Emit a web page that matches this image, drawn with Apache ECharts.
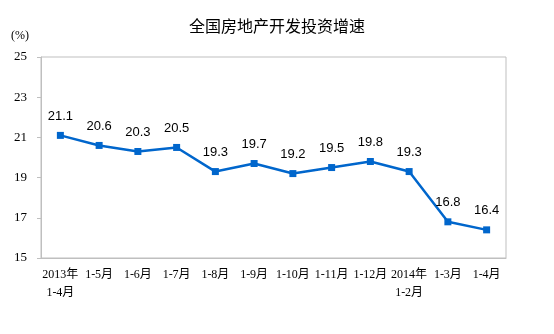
<!DOCTYPE html>
<html>
<head>
<meta charset="utf-8">
<script src="https://cdn.jsdelivr.net/npm/echarts@6/dist/echarts.min.js"></script>
<style>
  html, body { margin: 0; padding: 0; background: #fff; }
  #chart { width: 554px; height: 334px; }
</style>
</head>
<body>
<div id="chart"></div>
<script>
// Month ranges (cumulative from January)
const categories = ['2013年\n1-4月', '1-5月', '1-6月', '1-7月', '1-8月', '1-9月',
  '1-10月', '1-11月', '1-12月', '2014年\n1-2月', '1-3月', '1-4月'];
// Year-on-year growth of national real-estate development investment (%)
const growth = [21.1, 20.6, 20.3, 20.5, 19.3, 19.7, 19.2, 19.5, 19.8, 19.3, 16.8, 16.4];
const yTicks = { min: 15, max: 25, interval: 2 };

const axisFont = '"Liberation Serif", "Noto Sans CJK SC", serif';

const chart = echarts.init(document.getElementById('chart'));
chart.setOption({
  animation: false,
  title: {
    text: '全国房地产开发投资增速',
    left: 'center',
    top: 13,
    textStyle: { fontFamily: '"Noto Sans CJK SC", sans-serif', fontSize: 16, fontWeight: 'normal', color: '#000' }
  },
  graphic: [{
    type: 'text',
    left: 11,
    top: 30,
    style: { text: '(%)', font: '12px ' + axisFont, fill: '#000' }
  }],
  grid: {
    left: 41, right: 48, top: 57, bottom: 76,
    show: true, borderColor: '#bfbfbf', borderWidth: 1
  },
  xAxis: {
    type: 'category',
    data: categories,
    boundaryGap: true,
    axisLine: { lineStyle: { color: '#bfbfbf' } },
    axisTick: { inside: true, length: 4, lineStyle: { color: '#bfbfbf' } },
    axisLabel: {
      interval: 0, margin: 8, color: '#000', fontSize: 12, lineHeight: 18,
      fontFamily: axisFont
    }
  },
  yAxis: {
    type: 'value',
    min: yTicks.min, max: yTicks.max, interval: yTicks.interval,
    splitLine: { show: false },
    axisLine: { show: true, lineStyle: { color: '#bfbfbf' } },
    axisTick: { show: true, length: 4, lineStyle: { color: '#bfbfbf' } },
    axisLabel: { color: '#000', fontSize: 13, margin: 14, fontFamily: axisFont }
  },
  series: [{
    type: 'line',
    data: growth,
    symbol: 'rect',
    symbolSize: 7,
    lineStyle: { color: '#0066cc', width: 2.5 },
    itemStyle: { color: '#0066cc' },
    label: {
      show: true, position: 'top', distance: 9,
      color: '#000', fontSize: 13,
      fontFamily: '"Liberation Sans", Arial, sans-serif',
      formatter: p => p.value.toFixed(1)
    }
  }]
});
</script>
</body>
</html>
